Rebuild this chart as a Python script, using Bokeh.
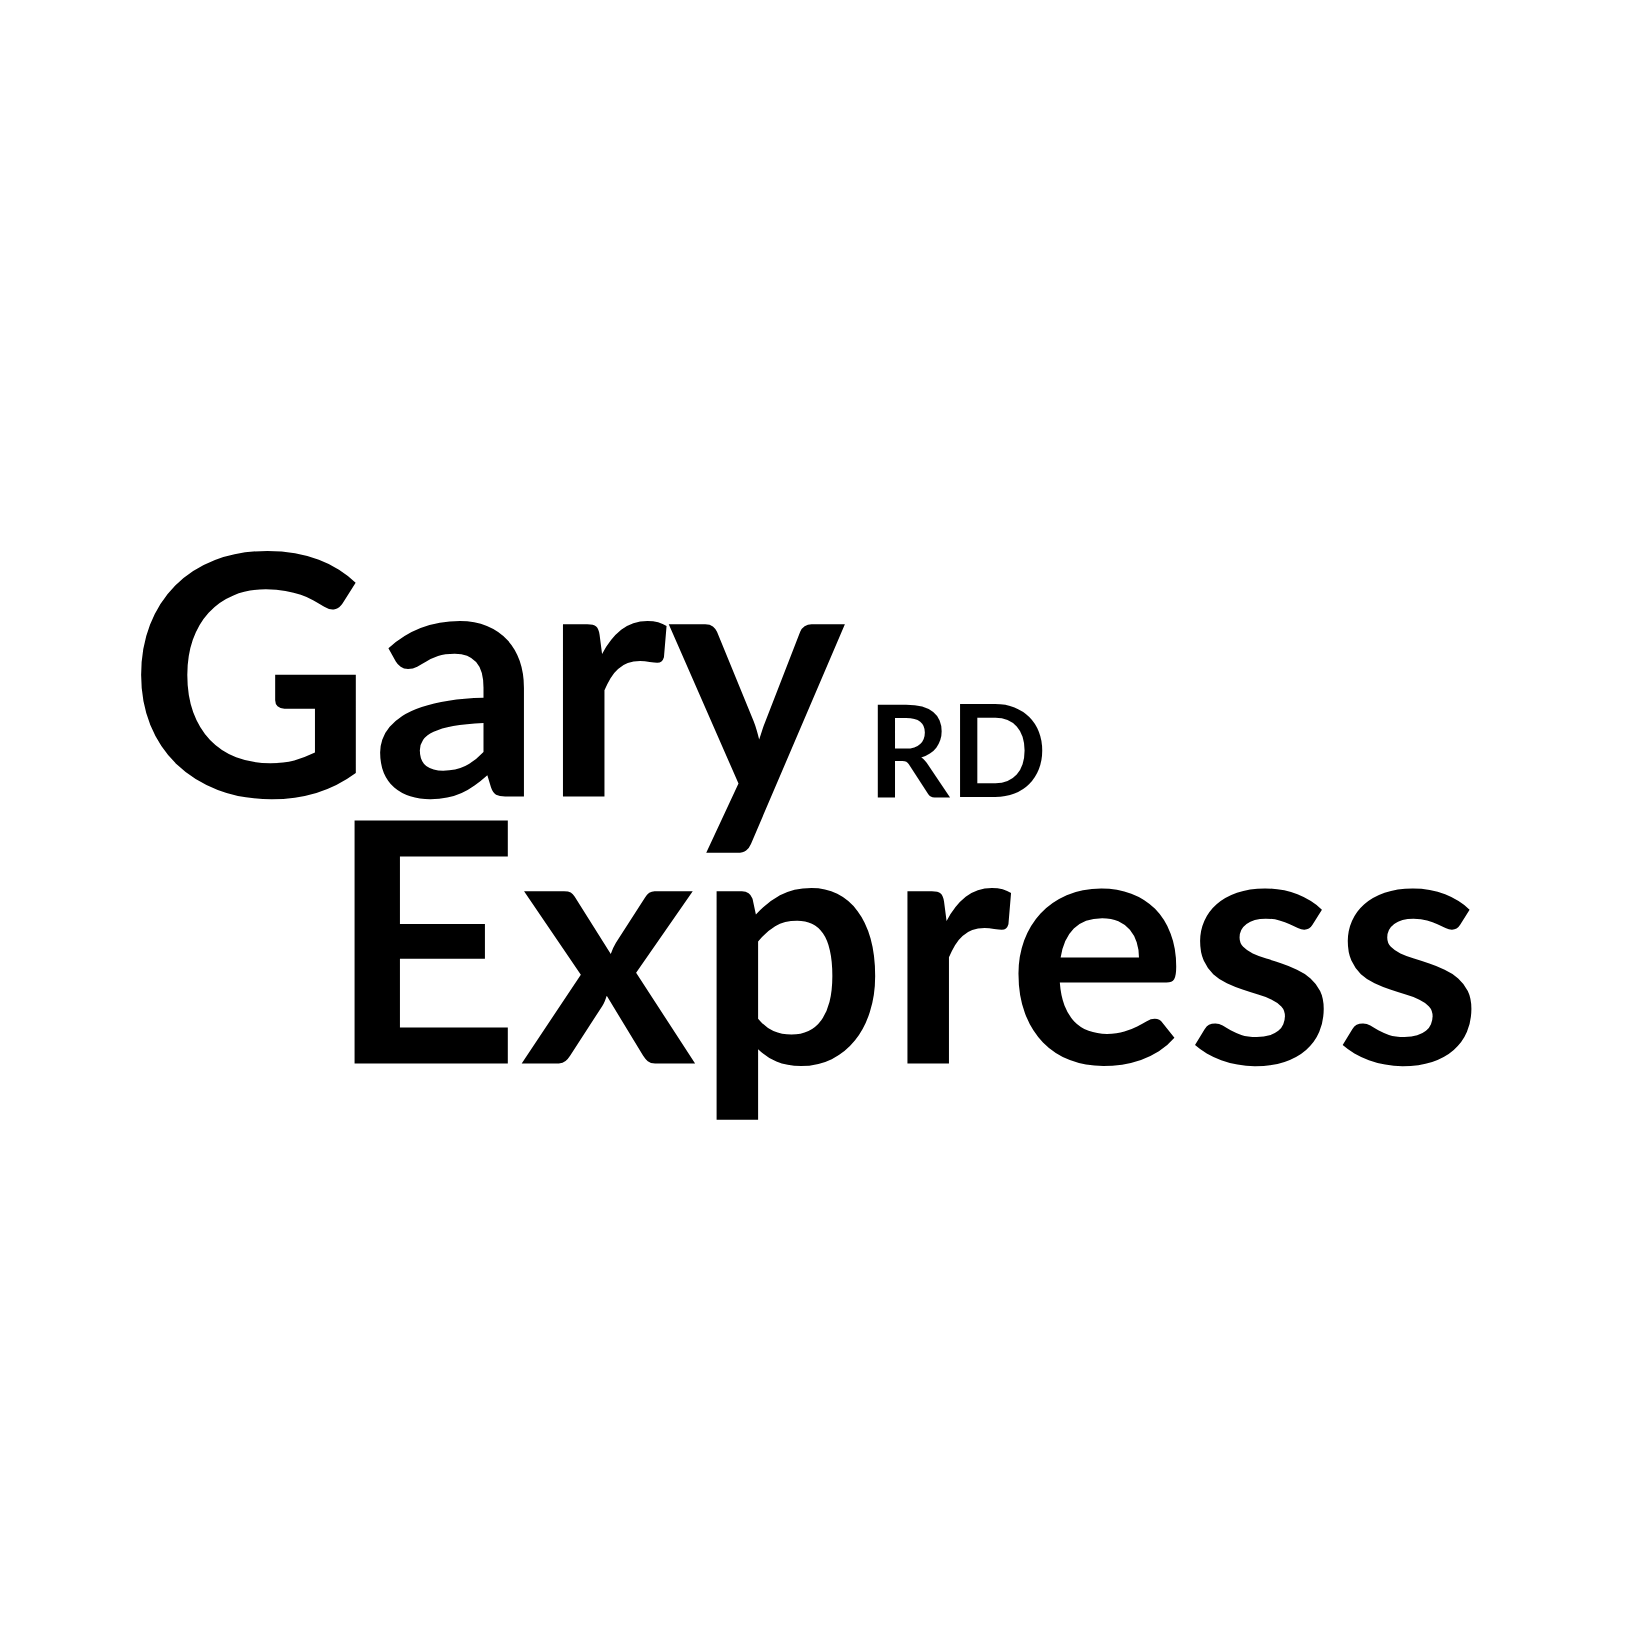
from bokeh.core.properties import value
from bokeh.embed import file_html
from bokeh.models import ColumnDataSource, Range1d
from bokeh.plotting import figure
from bokeh.resources import INLINE

# logo words
words = ["Gary", "RD", "Express"]

W = H = 1617

p = figure(width=W, height=H, output_backend="svg", toolbar_location=None,
           x_range=Range1d(0, W), y_range=Range1d(H, 0), min_border=0)
p.axis.visible = False
p.grid.visible = False
p.outline_line_color = None
p.background_fill_color = "white"
p.border_fill_color = "white"

src = ColumnDataSource(dict(
    text=words,
    x=[128, 867, 327],
    y=[666, 747, 933],
    size=["336px", "128px", "336px"],
))
p.text(x="x", y="y", text="text", source=src, text_font=value("Lato"),
       text_font_size="size", text_font_style="bold", text_color="black",
       text_align="left", text_baseline="alphabetic")

open("out.html", "w").write(file_html(p, INLINE))
